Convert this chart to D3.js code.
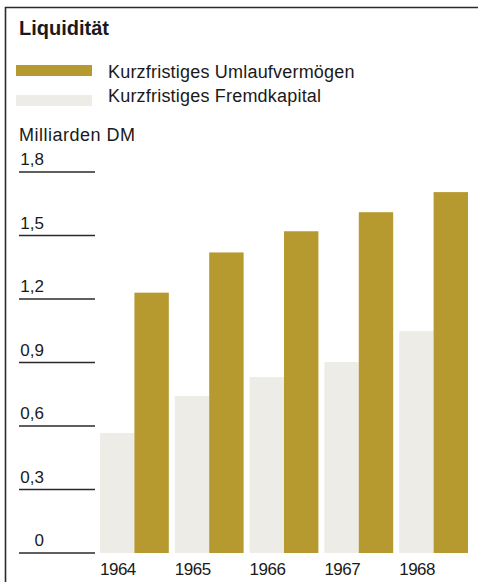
<!DOCTYPE html>
<html>
<head>
<meta charset="utf-8">
<script src="https://cdn.jsdelivr.net/npm/d3@7"></script>
<style>
  html, body { margin: 0; padding: 0; background: #fff; }
  svg { display: block; font-family: "Liberation Sans", Arial, Helvetica, sans-serif; }
</style>
</head>
<body>
<svg id="chart" width="478" height="582"></svg>
<script>
const years = ["1964", "1965", "1966", "1967", "1968"];
const umlaufvermoegen = [1.23, 1.42, 1.52, 1.61, 1.705];
const fremdkapital = [0.567, 0.742, 0.831, 0.902, 1.049];
const tickValues = [0, 0.3, 0.6, 0.9, 1.2, 1.5, 1.8];
const tickLabels = ["0", "0,3", "0,6", "0,9", "1,2", "1,5", "1,8"];
const seriesNames = ["Kurzfristiges Umlaufvermögen", "Kurzfristiges Fremdkapital"];
const title = "Liquidität";
const unitLabel = "Milliarden DM";

const gold = "#b6992f";
const light = "#edece7";
const ink = "#1a1a1a";

const svg = d3.select("#chart");

// frame
svg.append("path")
  .attr("d", "M5.5,582 L5.5,7.5 L478,7.5")
  .attr("fill", "none").attr("stroke", "#2a2a2a").attr("stroke-width", 1.6);

// title
svg.append("text").attr("x", 19).attr("y", 35)
  .attr("font-size", 20).attr("font-weight", "bold").attr("fill", ink)
  .text(title);

// legend
const legendColors = [gold, light];
const legend = svg.append("g");
seriesNames.forEach((name, i) => {
  legend.append("rect")
    .attr("x", 16).attr("y", 65 + i * 30).attr("width", 76).attr("height", 11)
    .attr("fill", legendColors[i]);
  legend.append("text")
    .attr("x", 108).attr("y", 78 + i * 24)
    .attr("font-size", 18).attr("letter-spacing", 0.2).attr("fill", ink)
    .text(name);
});

// unit label
svg.append("text").attr("x", 19).attr("y", 141)
  .attr("font-size", 18).attr("letter-spacing", 0.5).attr("fill", ink)
  .text(unitLabel);

const y = d3.scaleLinear().domain([0, 1.8]).range([553, 172]);
const x = d3.scaleBand().domain(years).range([100, 468]).paddingInner(0.08);
const half = x.bandwidth() / 2;

// y ticks as lines with labels above
const yAxis = svg.append("g");
tickValues.forEach((v, i) => {
  yAxis.append("line")
    .attr("x1", 19).attr("x2", 95)
    .attr("y1", y(v)).attr("y2", y(v))
    .attr("stroke", "#2a2a2a").attr("stroke-width", 1.4);
  yAxis.append("text")
    .attr("x", 44).attr("y", y(v) - 7)
    .attr("text-anchor", "end")
    .attr("font-size", 17).attr("fill", ink)
    .text(tickLabels[i]);
});

// bars
svg.append("g").selectAll("rect.fk")
  .data(years)
  .join("rect")
  .attr("x", d => x(d))
  .attr("width", half)
  .attr("y", (d, i) => y(fremdkapital[i]))
  .attr("height", (d, i) => y(0) - y(fremdkapital[i]))
  .attr("fill", light);

svg.append("g").selectAll("rect.uv")
  .data(years)
  .join("rect")
  .attr("x", d => x(d) + half)
  .attr("width", half)
  .attr("y", (d, i) => y(umlaufvermoegen[i]))
  .attr("height", (d, i) => y(0) - y(umlaufvermoegen[i]))
  .attr("fill", gold);

// x labels
svg.append("g").selectAll("text")
  .data(years)
  .join("text")
  .attr("x", d => x(d))
  .attr("y", 575)
  .attr("font-size", 17)
  .attr("letter-spacing", -0.5)
  .attr("fill", ink)
  .text(d => d);
</script>
</body>
</html>
